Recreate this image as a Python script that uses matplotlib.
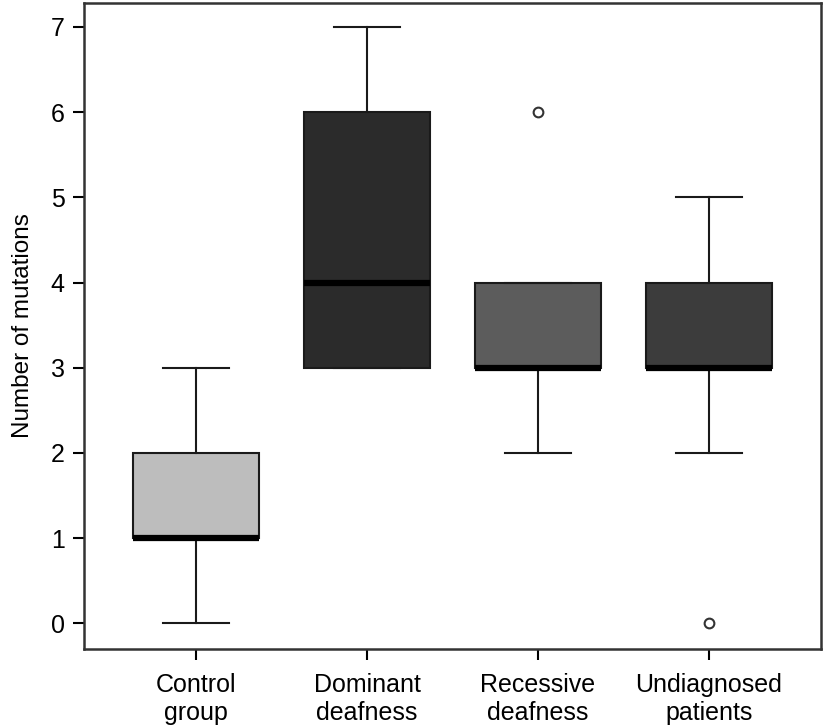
import matplotlib
matplotlib.use("Agg")
import matplotlib.pyplot as plt

plt.rcParams['font.family'] = ['Liberation Sans', 'DejaVu Sans']

# groups and their box summaries
groups = ["Control\ngroup", "Dominant\ndeafness", "Recessive\ndeafness", "Undiagnosed\npatients"]
whisker_low = [0, 3, 2, 2]
q1 = [1, 3, 3, 3]
median = [1, 4, 3, 3]
q3 = [2, 6, 4, 4]
whisker_high = [3, 7, 4, 5]
outliers = [[], [], [6], [0]]
box_colors = ["#bdbdbd", "#2b2b2b", "#5c5c5c", "#3c3c3c"]

stats = []
for i in range(len(groups)):
    stats.append({
        "whislo": whisker_low[i], "q1": q1[i], "med": median[i],
        "q3": q3[i], "whishi": whisker_high[i], "fliers": outliers[i],
    })

fig = plt.figure(figsize=(8.26, 7.28), dpi=100)
ax = fig.add_axes([0.1017, 0.1085, 0.8923, 0.8874])

positions = [1, 2, 3, 4]
bp = ax.bxp(stats, positions=positions, widths=0.74, patch_artist=True,
            showfliers=True,
            boxprops=dict(edgecolor="#1a1a1a", linewidth=1.5),
            medianprops=dict(color="black", linewidth=4.5, solid_capstyle="butt"),
            whiskerprops=dict(color="#1a1a1a", linewidth=1.5),
            capprops=dict(color="#1a1a1a", linewidth=1.5),
            capwidths=0.39,
            flierprops=dict(marker="o", markersize=7, markerfacecolor="white",
                            markeredgecolor="#333333", markeredgewidth=1.5))
for patch, c in zip(bp["boxes"], box_colors):
    patch.set_facecolor(c)

ax.set_xlim(0.345, 4.655)
ax.set_ylim(-0.3, 7.28)
ax.set_yticks(range(0, 8))
ax.set_xticks(positions)
ax.set_xticklabels(groups, fontsize=18, linespacing=1.22)
ax.tick_params(axis="y", labelsize=18, length=8, width=1.5, pad=6)
ax.tick_params(axis="x", length=8, width=1.5, pad=9)
ax.set_ylabel("Number of mutations", fontsize=17.5, labelpad=12)
for s in ax.spines.values():
    s.set_linewidth(1.8)
    s.set_color("#333333")

fig.savefig("out.png", dpi=100)
